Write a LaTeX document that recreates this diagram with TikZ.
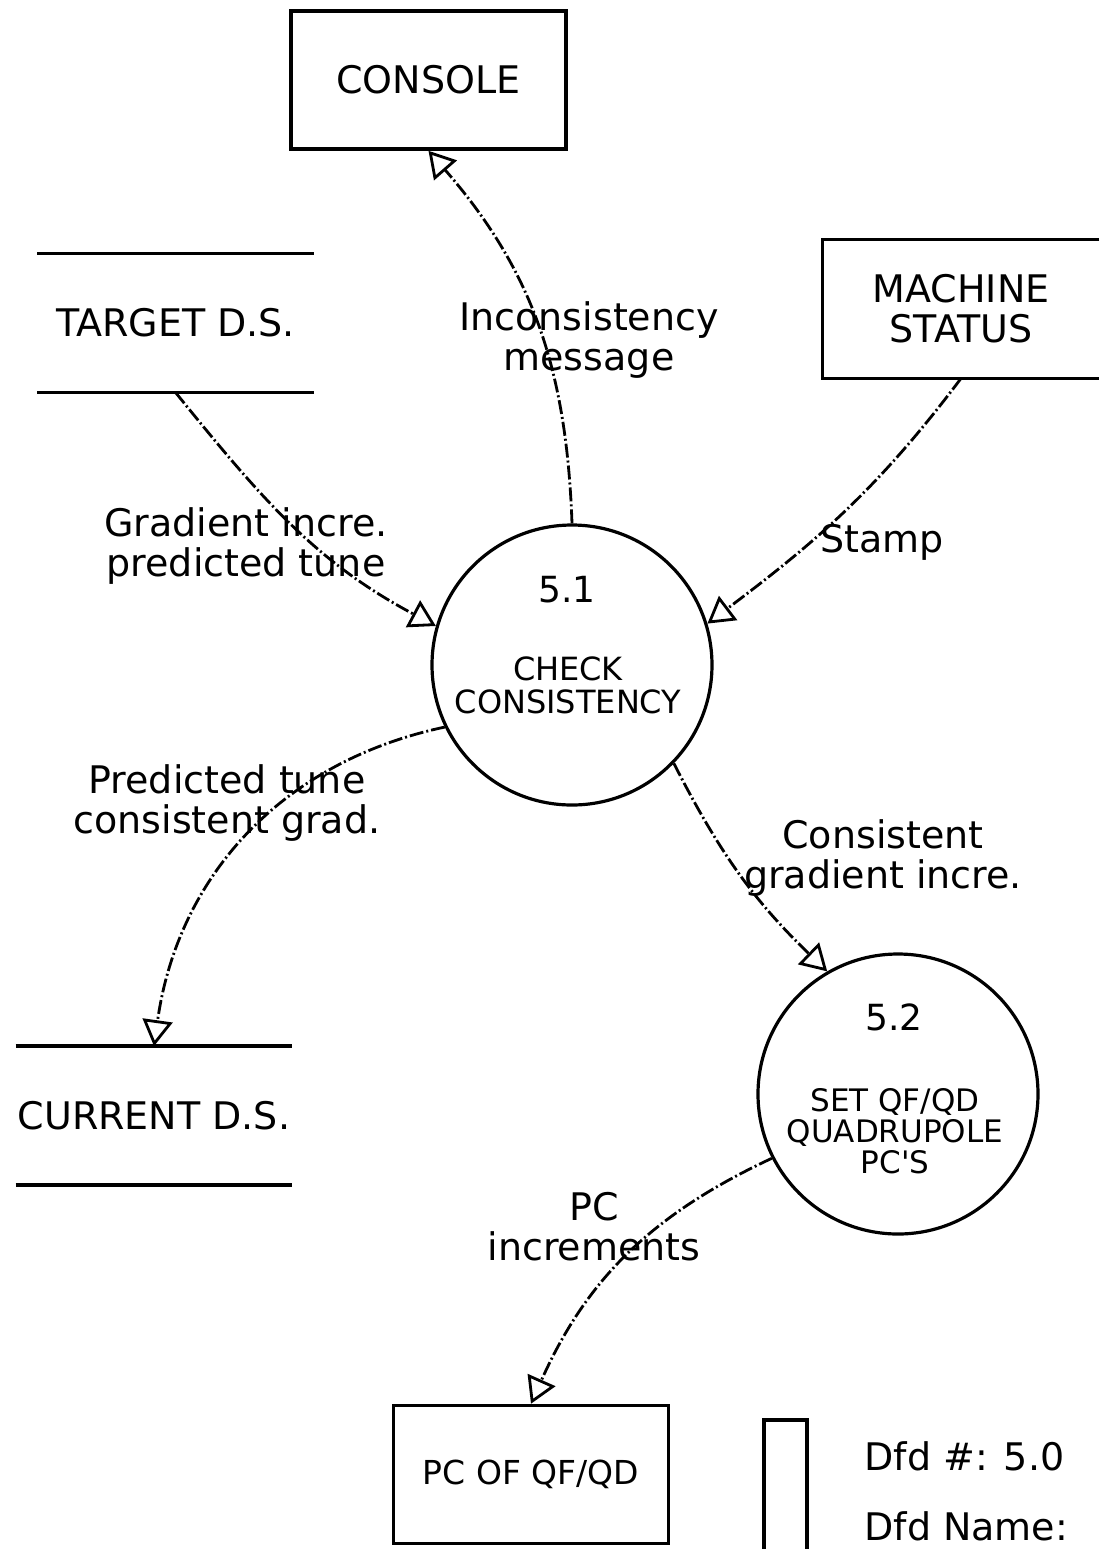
\documentclass[tikz,border=0pt]{standalone}
\usepackage{fontspec}
\setmainfont{DejaVu Sans}
\usetikzlibrary{arrows.meta}

\begin{document}
\begin{tikzpicture}[x=0.5pt, y=-0.5pt,
ext/.style={draw, line width=1.8pt, minimum width=137.5pt, minimum height=69pt, inner sep=0pt, align=center, font=\fontsize{19}{20}\selectfont},
store/.style={minimum width=138pt, minimum height=69pt, inner sep=0pt, align=center, font=\fontsize{19}{20}\selectfont},
proc/.style={draw, circle, line width=1.6pt, minimum size=140pt, inner sep=0pt},
pnum/.style={inner sep=0pt, font=\fontsize{18}{18}\selectfont},
ptext/.style={inner sep=0pt, align=center, font=\fontsize{16}{16.5}\selectfont},
flow/.style={line width=1.4pt, dash pattern=on 7pt off 1.5pt on 1pt off 1.5pt, -{Triangle[open, length=13pt, width=15pt]}},
lbl/.style={inner sep=0pt, align=center, font=\fontsize{19}{20}\selectfont}]
\useasboundingbox (0,0) rectangle (1099,1549);

\node[ext] (con) at (428.5,80) {CONSOLE};
\node[store] (tds) at (175.5,323) {TARGET D.S.};
\node[store] (ms) at (961,309) {MACHINE\\STATUS};
\node[store] (cds) at (154,1115.5) {CURRENT D.S.};
\node[ext, font=\fontsize{16.5}{18}\selectfont] (pc) at (531,1474.5) {PC OF QF/QD};
\foreach \s in {tds,cds}
    \draw[line width=1.8pt] (\s.north west) -- (\s.north east) (\s.south west) -- (\s.south east);
\draw[line width=1.8pt] (ms.north east) -| (ms.south west) -- (ms.south east);

\node[proc] (c51) at (572,665) {};
\node[pnum] (n51) at (567,590) {5.1};
\node[ptext] (t51) at (568,685) {CHECK\\CONSISTENCY};
\node[proc] (c52) at (898,1094) {};
\node[pnum] (n52) at (894,1017) {5.2};
\node[ptext, font=\fontsize{15.5}{15.5}\selectfont] (t52) at (895,1131) {SET QF/QD\\QUADRUPOLE\\PC\textquotesingle S};

\draw[flow] (c51.north) to[out=92, in=-49] (con.south);
\draw[flow] (tds.south) to[out=-51, in=152] (c51.164);
\draw[flow] (ms.south) to[out=-127, in=37] (c51.17);
\draw[flow] (c51.206) to[out=192, in=82] (cds.north);
\draw[flow] (c51.-44) to[out=-63, in=136] (c52.120);
\draw[flow] (c52.207) to[out=205, in=66] (pc.north);

\node[lbl] (l-inc) at (589,340) {Inconsistency\\message};
\node[lbl] (l-grad) at (246,546) {Gradient incre.\\predicted tune};
\node[lbl] (l-stamp) at (882,542) {Stamp};
\node[lbl] (l-pred) at (227,803) {Predicted tune\\consistent grad.};
\node[lbl] (l-cons) at (883,858) {Consistent\\gradient incre.};
\node[lbl] (l-pc) at (594,1227) {PC\\increments};

\draw[line width=1.8pt] (764,1549) |- (807,1420) -- (807,1549);
\node[lbl, anchor=base west] (dfd-no) at (864,1470) {Dfd \#: 5.0};
\node[lbl, anchor=base west] (dfd-name) at (864,1540) {Dfd Name:};
\end{tikzpicture}
\end{document}
